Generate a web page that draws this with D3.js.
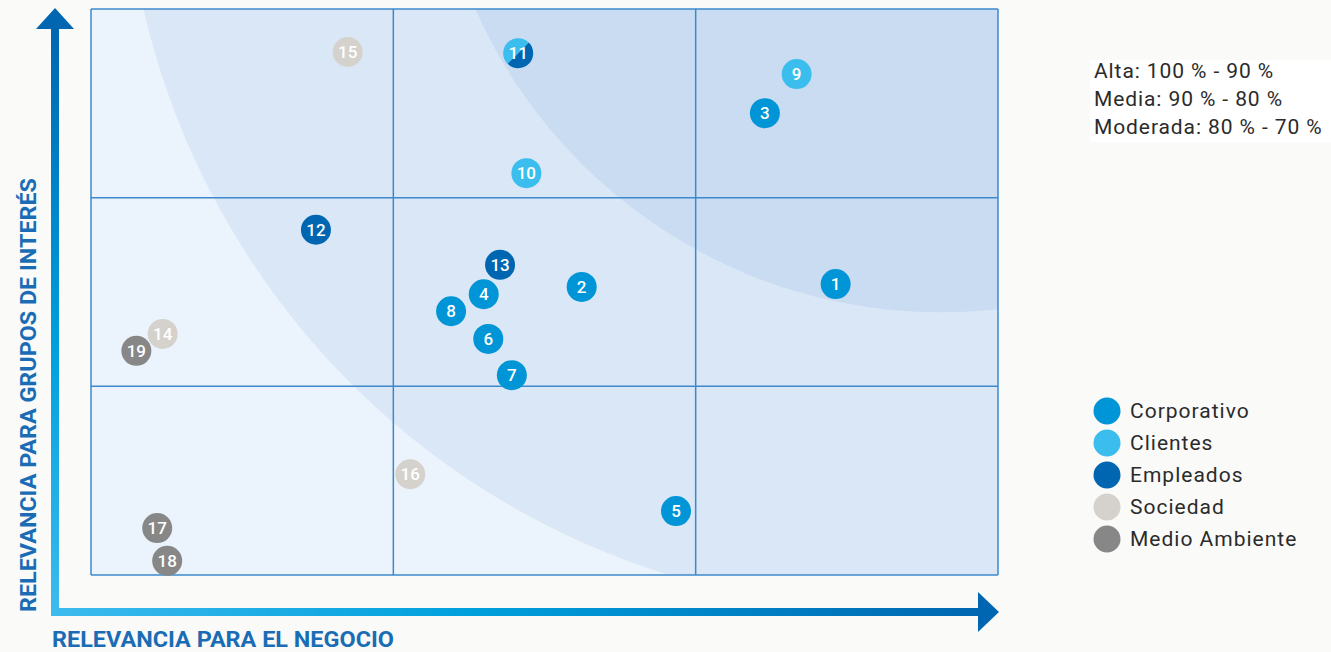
<!DOCTYPE html>
<html><head><meta charset="utf-8">
<script src="https://cdn.jsdelivr.net/npm/d3@7"></script>
<style>
body{margin:0;background:#fafaf9;}
svg{display:block;font-family:Roboto,"DejaVu Sans",sans-serif;}
</style>
</head><body>
<svg id="c" width="1331" height="652"></svg>
<script>
// ---- data ----
const categories = ["Corporativo","Clientes","Empleados","Sociedad","Medio Ambiente"];
const categoryColors = ["#0095d6","#3bbdee","#0066b1","#d5d2cd","#878787"];
const topicIds = [1,2,3,4,5,6,7,8,9,10,11,12,13,14,15,16,17,18,19];
// relevancia para el negocio (x, 0-100)
const negocio = [82.1,54.1,74.3,43.3,64.5,43.8,46.4,39.7,77.8,48.0,47.1,24.8,45.1,7.9,28.3,35.2,7.3,8.4,5.0];
// relevancia para grupos de interés (y, 0-100)
const grupos  = [51.4,50.9,81.6,49.6,11.3,41.7,35.3,46.6,88.5,71.0,92.2,61.0,54.8,42.6,92.4,17.8,8.3,2.5,39.6];
const topicCategory = [
  ["Corporativo"],["Corporativo"],["Corporativo"],["Corporativo"],["Corporativo"],
  ["Corporativo"],["Corporativo"],["Corporativo"],["Clientes"],["Clientes"],
  ["Clientes","Empleados"],["Empleados"],["Empleados"],["Sociedad"],["Sociedad"],
  ["Sociedad"],["Medio Ambiente"],["Medio Ambiente"],["Medio Ambiente"]];
const levelLabels = ["Alta: 100 % - 90 %","Media: 90 % - 80 %","Moderada: 80 % - 70 %"];
// relevance zones (circles, centre in data units, radius in x units)
const zoneNames = ["Media","Alta"];
const zoneCx = [89.0, 93.7];
const zoneCy = [130.7, 136.3];
const zoneR  = [85.4, 56.1];
const zoneColors = ["#dae7f6","#c9dcf2"];
const gridTicks = [0, 100/3, 200/3, 100];
const xTitle = "RELEVANCIA PARA EL NEGOCIO";
const yTitle = "RELEVANCIA PARA GRUPOS DE INTERÉS";

// ---- chart ----
const svg = d3.select("#c");
const L = 91, R = 998, T = 9, B = 575;
const x = d3.scaleLinear().domain([0,100]).range([L,R]);
const y = d3.scaleLinear().domain([0,100]).range([B,T]);
const color = d3.scaleOrdinal().domain(categories).range(categoryColors);

const defs = svg.append("defs");
defs.append("clipPath").attr("id","plotclip").append("rect")
  .attr("x",L).attr("y",T).attr("width",R-L).attr("height",B-T);
const gv = defs.append("linearGradient").attr("id","gv").attr("x1",0).attr("y1",1).attr("x2",0).attr("y2",0);
gv.append("stop").attr("offset","0%").attr("stop-color","#3dbbee");
gv.append("stop").attr("offset","45%").attr("stop-color","#00a0dd");
gv.append("stop").attr("offset","100%").attr("stop-color","#0066b1");
const gh = defs.append("linearGradient").attr("id","gh").attr("x1",0).attr("y1",0).attr("x2",1).attr("y2",0);
gh.append("stop").attr("offset","0%").attr("stop-color","#3dbbee");
gh.append("stop").attr("offset","45%").attr("stop-color","#00a0dd");
gh.append("stop").attr("offset","100%").attr("stop-color","#0066b1");

// background
svg.append("rect").attr("x",L).attr("y",T).attr("width",R-L).attr("height",B-T).attr("fill","#ebf3fc");
const zg = svg.append("g").attr("clip-path","url(#plotclip)");
zoneNames.forEach((n,i)=>{
  zg.append("circle").attr("cx",x(zoneCx[i])).attr("cy",y(zoneCy[i]))
    .attr("r",x(zoneR[i])-x(0)).attr("fill",zoneColors[i]);
});

// grid
const grid = svg.append("g").attr("stroke","#3d89cb").attr("stroke-width",1.5).attr("fill","none");
gridTicks.forEach(t=>{
  grid.append("line").attr("x1",x(t)).attr("x2",x(t)).attr("y1",y(0)).attr("y2",y(100));
  grid.append("line").attr("y1",y(t)).attr("y2",y(t)).attr("x1",x(0)).attr("x2",x(100));
});

// axis arrows
const ax = svg.append("g");
ax.append("rect").attr("x",51).attr("y",26).attr("width",8).attr("height",616-26).attr("fill","url(#gv)");
ax.append("path").attr("d","M55,8 L74,29 L36,29 Z").attr("fill","#0066b1");
ax.append("rect").attr("x",51).attr("y",608).attr("width",980-51).attr("height",8).attr("fill","url(#gh)");
ax.append("path").attr("d","M999,612 L978,592 L978,632 Z").attr("fill","#0066b1");

ax.append("text").attr("x",52).attr("y",647).text(xTitle)
  .attr("font-size",22).attr("font-weight",700).attr("fill","#1a6db5")
  .attr("textLength",342).attr("lengthAdjust","spacingAndGlyphs");
ax.append("text").attr("transform","translate(36,612) rotate(-90)").text(yTitle)
  .attr("font-size",22).attr("font-weight",700).attr("fill","#1a6db5")
  .attr("textLength",434).attr("lengthAdjust","spacingAndGlyphs");

// bubbles
const rB = 15;
const arc = d3.arc().innerRadius(0).outerRadius(rB);
const bubbles = svg.append("g").selectAll("g").data(topicIds).join("g")
  .attr("transform",(d,i)=>`translate(${x(negocio[i])},${y(grupos[i])})`);
bubbles.each(function(d,i){
  const g = d3.select(this);
  const cats = topicCategory[i];
  if (cats.length === 1) {
    g.append("circle").attr("r",rB).attr("fill",color(cats[0]));
  } else {
    g.append("path").attr("d",arc({startAngle:5*Math.PI/4,endAngle:9*Math.PI/4})).attr("fill",color(cats[0]));
    g.append("path").attr("d",arc({startAngle:Math.PI/4,endAngle:5*Math.PI/4})).attr("fill",color(cats[1]));
  }
  g.append("text").text(d).attr("text-anchor","middle").attr("dy","0.36em")
    .attr("font-size",17).attr("font-weight",500).attr("fill","#fff");
});

// level legend
svg.append("rect").attr("x",1090).attr("y",60).attr("width",241).attr("height",82).attr("fill","#ffffff");
svg.append("g").selectAll("text").data(levelLabels).join("text")
  .attr("x",1094).attr("y",(d,i)=>78+i*28).text(d=>d)
  .attr("font-size",21).attr("letter-spacing",0.9).attr("fill","#2b2b2b");

// category legend
const lg = svg.append("g").selectAll("g").data(categories).join("g")
  .attr("transform",(d,i)=>`translate(1107,${411+i*32})`);
lg.append("circle").attr("r",13.5).attr("fill",d=>color(d));
lg.append("text").attr("x",23).attr("dy","0.35em").text(d=>d)
  .attr("font-size",21).attr("letter-spacing",1).attr("fill","#2b2b2b");
</script>
</body></html>
